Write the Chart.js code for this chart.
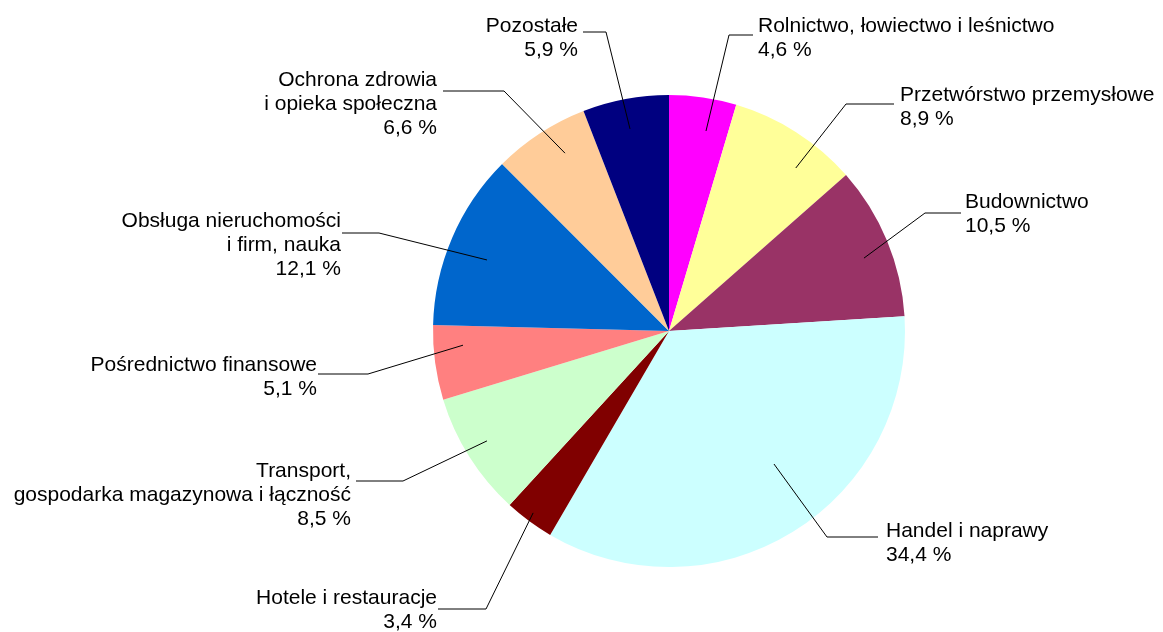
<!DOCTYPE html>
<html>
<head>
<meta charset="utf-8">
<script src="https://cdn.jsdelivr.net/npm/chart.js@4/dist/chart.umd.min.js"></script>
<style>
  html, body { margin: 0; padding: 0; background: #fff; }
  #wrap { width: 1163px; height: 632px; }
</style>
</head>
<body>
<div id="wrap"><canvas id="pie" width="1163" height="632"></canvas></div>
<script>
// data, clockwise from 12 o'clock
var categories = [
  ['Rolnictwo, łowiectwo i leśnictwo'],
  ['Przetwórstwo przemysłowe'],
  ['Budownictwo'],
  ['Handel i naprawy'],
  ['Hotele i restauracje'],
  ['Transport,', 'gospodarka magazynowa i łączność'],
  ['Pośrednictwo finansowe'],
  ['Obsługa nieruchomości', 'i firm, nauka'],
  ['Ochrona zdrowia', 'i opieka społeczna'],
  ['Pozostałe']
];
var values = [4.6, 8.9, 10.5, 34.4, 3.4, 8.5, 5.1, 12.1, 6.6, 5.9];
var colors = ['#FF00FF', '#FFFF99', '#993366', '#CCFFFF', '#800000',
              '#CCFFCC', '#FF8080', '#0066CC', '#FFCC99', '#000080'];

// label placement: leader start (fraction of radius, degrees off mid-angle),
// leader bend and end, text anchor, alignment (pixels)
var labelLayout = [
  { depth: 0.862, shift: 2.2,  bend: [729, 35],  end: [753, 35],  text: [758, 32],  align: 'left' },
  { depth: 0.875, shift: 5.3,  bend: [846, 104], end: [894, 104], text: [900, 101], align: 'left' },
  { depth: 0.882, shift: 2.0,  bend: [925, 213], end: [961, 213], text: [965, 208], align: 'left' },
  { depth: 0.718, shift: -6.6, bend: [827, 537], end: [878, 537], text: [886, 537], align: 'left' },
  { depth: 0.962, shift: 0.4,  bend: [486, 609], end: [438, 609], text: [437, 604], align: 'right' },
  { depth: 0.901, shift: 1.1,  bend: [403, 481], end: [356, 481], text: [351, 477], align: 'right' },
  { depth: 0.875, shift: 3.8,  bend: [368, 374], end: [318, 374], text: [317, 371], align: 'right' },
  { depth: 0.828, shift: -1.9, bend: [379, 233], end: [342, 233], text: [341, 227], align: 'right' },
  { depth: 0.873, shift: 2.8,  bend: [504, 91],  end: [443, 91],  text: [437, 86],  align: 'right' },
  { depth: 0.872, shift: -0.3, bend: [606, 32],  end: [583, 32],  text: [578, 32],  align: 'right' }
];

function fmt(v) {
  return v.toFixed(1).replace('.', ',') + ' %';
}

var leaderLabels = {
  id: 'leaderLabels',
  afterDraw: function(chart) {
    var ctx = chart.ctx;
    var arcs = chart.getDatasetMeta(0).data;
    ctx.save();
    ctx.strokeStyle = '#000';
    ctx.lineWidth = 1;
    ctx.fillStyle = '#000';
    ctx.font = '21px "Liberation Sans", Arial, sans-serif';
    ctx.textBaseline = 'alphabetic';
    arcs.forEach(function(arc, i) {
      var lay = labelLayout[i];
      var p = arc.getProps(['x', 'y', 'startAngle', 'endAngle', 'outerRadius'], true);
      var mid = (p.startAngle + p.endAngle) / 2 + lay.shift * Math.PI / 180;
      var r = p.outerRadius * lay.depth;
      ctx.beginPath();
      ctx.moveTo(p.x + Math.cos(mid) * r, p.y + Math.sin(mid) * r);
      ctx.lineTo(lay.bend[0], lay.bend[1]);
      ctx.lineTo(lay.end[0], lay.end[1]);
      ctx.stroke();

      var lines = categories[i].concat([fmt(values[i])]);
      ctx.textAlign = lay.align;
      lines.forEach(function(t, k) {
        ctx.fillText(t, lay.text[0], lay.text[1] + k * 24);
      });
    });
    ctx.restore();
  }
};

var ctx = document.getElementById('pie').getContext('2d');
var myChart = new Chart(ctx, {
  type: 'pie',
  data: {
    labels: categories.map(function(c) { return c.join(' '); }),
    datasets: [{
      data: values,
      backgroundColor: colors,
      borderWidth: 0
    }]
  },
  options: {
    responsive: false,
    animation: false,
    layout: {
      padding: { left: 433, right: 258, top: 95, bottom: 65 }
    },
    plugins: {
      legend: { display: false },
      tooltip: { enabled: false }
    }
  },
  plugins: [leaderLabels]
});
</script>
</body>
</html>
